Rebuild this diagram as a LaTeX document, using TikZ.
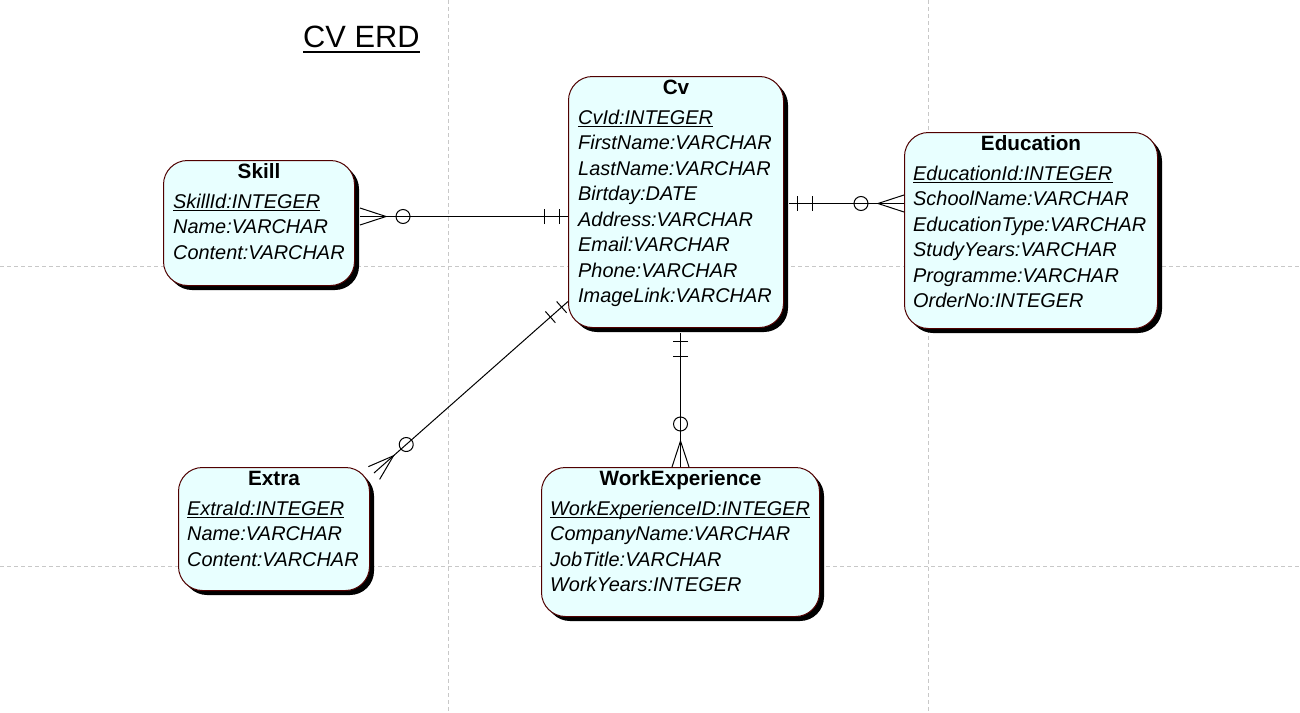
\documentclass[tikz,border=0pt]{standalone}
\usepackage{fontspec}
\setmainfont{Liberation Sans}
\usetikzlibrary{shadows,decorations.markings,calc}
\definecolor{boxfill}{RGB}{232,255,255}
\definecolor{boxline}{RGB}{80,0,0}
\definecolor{gridc}{RGB}{200,200,200}
\newcommand\attrfont{\fontsize{19.9pt}{23pt}\selectfont\itshape}
\newcommand\headfont{\fontsize{20.7pt}{24pt}\selectfont\bfseries}
\begin{document}
\begin{tikzpicture}[x=1pt,y=-1pt,
 entity/.style={draw=boxline, fill=boxfill, line width=1pt, rounded corners=24pt, inner sep=0pt, anchor=north west,
   general shadow={fill=black, shadow xshift=4.5pt, shadow yshift=-4.5pt}},
 head/.style={anchor=base, inner sep=0pt, font=\headfont},
 attr/.style={anchor=base west, inner sep=0pt, font=\attrfont},
 keyline/.style={line width=1pt},
 gridline/.style={draw=gridc, line width=1pt, dash pattern=on 4pt off 3pt},
 rel/.style={draw=black, line width=1pt, postaction={decorate}, decoration={markings,
   mark=at position 0.01pt with {\draw[line width=1pt] (0pt,8.5pt) -- (26pt,0pt) -- (0pt,-8.5pt); \draw[line width=1pt] (43pt,0pt) circle (7pt);},
   mark=at position -8.5pt with {\draw[line width=1pt] (0pt,-7.5pt) -- (0pt,7.5pt);},
   mark=at position -23.5pt with {\draw[line width=1pt] (0pt,-7.5pt) -- (0pt,7.5pt);}}}
]
\useasboundingbox (0,0) rectangle (1300,712);
\fill[white] (0,0) rectangle (1300,712);
% page grid
\draw[gridline] (448,0) -- (448,712);
\draw[gridline] (928,0) -- (928,712);
\draw[gridline] (0,266) -- (1300,266);
\draw[gridline] (0,566) -- (1300,566);
% title
\node[anchor=base west, inner sep=0pt, font=\fontsize{30.8pt}{36pt}\selectfont] (title) at (303,47.5) {CV ERD};
\draw[line width=2pt] ([yshift=-4.5pt]title.base west) -- ([yshift=-4.5pt]title.base east);
% entities
\node[entity, minimum width=215pt, minimum height=251pt] (cv) at (568,76) {};
\node[entity, minimum width=191pt, minimum height=125pt] (skill) at (163,160) {};
\node[entity, minimum width=253pt, minimum height=196pt] (edu) at (904,132) {};
\node[entity, minimum width=278pt, minimum height=149pt] (work) at (541,467) {};
\node[entity, minimum width=191pt, minimum height=123pt] (extra) at (178,467) {};
% headers
\node[head] (cv-h) at ([yshift=-18.5pt]cv.north) {Cv};
\node[head] (skill-h) at ([yshift=-18.5pt]skill.north) {Skill};
\node[head] (edu-h) at ([yshift=-18.5pt]edu.north) {Education};
\node[head] (work-h) at ([yshift=-18.5pt]work.north) {WorkExperience};
\node[head] (extra-h) at ([yshift=-18.5pt]extra.north) {Extra};
% attributes
\foreach \t [count=\i from 0] in {CvId:INTEGER,FirstName:VARCHAR,LastName:VARCHAR,Birtday:DATE,Address:VARCHAR,Email:VARCHAR,Phone:VARCHAR,ImageLink:VARCHAR}
  \node[attr] (cv-\i) at ([xshift=10pt,yshift={-48pt-25.5pt*\i}]cv.north west) {\t};
\foreach \t [count=\i from 0] in {SkillId:INTEGER,Name:VARCHAR,Content:VARCHAR}
  \node[attr] (skill-\i) at ([xshift=10pt,yshift={-48pt-25.5pt*\i}]skill.north west) {\t};
\foreach \t [count=\i from 0] in {EducationId:INTEGER,SchoolName:VARCHAR,EducationType:VARCHAR,StudyYears:VARCHAR,Programme:VARCHAR,OrderNo:INTEGER}
  \node[attr] (edu-\i) at ([xshift=9pt,yshift={-48pt-25.5pt*\i}]edu.north west) {\t};
\foreach \t [count=\i from 0] in {WorkExperienceID:INTEGER,CompanyName:VARCHAR,JobTitle:VARCHAR,WorkYears:INTEGER}
  \node[attr] (work-\i) at ([xshift=9pt,yshift={-48pt-25.5pt*\i}]work.north west) {\t};
\foreach \t [count=\i from 0] in {ExtraId:INTEGER,Name:VARCHAR,Content:VARCHAR}
  \node[attr] (extra-\i) at ([xshift=9pt,yshift={-48pt-25.5pt*\i}]extra.north west) {\t};
% key underlines
\foreach \k in {cv-0,skill-0,edu-0,work-0,extra-0}
  \draw[keyline] ([yshift=-2.5pt]\k.base west) -- ([yshift=-2.5pt]\k.base east);
% relationships (many/optional end first, one/mandatory end last)
\draw[rel] ([xshift=5pt,yshift=6.5pt]skill.east) -- ([yshift=-14.5pt]cv.west);
\draw[rel] ([yshift=27pt]edu.west) -- ([xshift=4.5pt,yshift=-1.5pt]cv.east);
\draw[rel] (work.north) -- ([xshift=4.5pt,yshift=-4.5pt]cv.south);
\draw[rel] ([xshift=4pt,yshift=-6pt]extra.north east) -- ([yshift=-99.5pt]cv.west);
\end{tikzpicture}
\end{document}
